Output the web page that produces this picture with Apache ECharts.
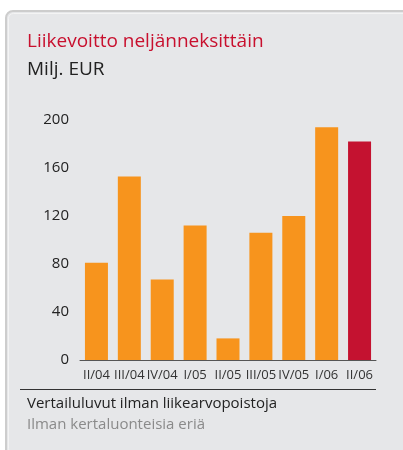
<!DOCTYPE html>
<html>
<head>
<meta charset="utf-8">
<script src="https://cdn.jsdelivr.net/npm/echarts@6/dist/echarts.min.js"></script>
<style>
    html, body { margin: 0; padding: 0; background: #fff; }
    #chart { width: 403px; height: 450px; }
</style>
</head>
<body>
<div id="chart"></div>
<script>
    // quarters and operating profit, MEUR
    var quarters = ['II/04', 'III/04', 'IV/04', 'I/05', 'II/05', 'III/05', 'IV/05', 'I/06', 'II/06'];
    var profit = [81, 153, 67, 112, 18, 106, 120, 194, 182];
    var yTicks = [0, 40, 80, 120, 160, 200];

    var font = '"Open Sans", "Noto Sans", sans-serif';
    var chart = echarts.init(document.getElementById('chart'));

    var option = {
        animation: false,
        grid: { left: 80, right: 27, top: 120, bottom: 90 },
        xAxis: {
            type: 'category',
            data: quarters,
            axisLine: { lineStyle: { color: '#555', width: 1 } },
            axisTick: { show: false },
            axisLabel: { color: '#333', fontSize: 13, fontFamily: font, margin: 9, interval: 0 }
        },
        yAxis: {
            type: 'value',
            min: yTicks[0],
            max: yTicks[yTicks.length - 1],
            interval: 40,
            splitLine: { show: false },
            axisLine: { show: false },
            axisTick: { show: false },
            axisLabel: { color: '#222', fontSize: 15, fontFamily: font, margin: 11 }
        },
        series: [{
            type: 'bar',
            data: profit,
            barWidth: 23,
            itemStyle: {
                color: function (p) {
                    return p.dataIndex === profit.length - 1 ? '#c41230' : '#f7941d';
                }
            }
        }],
        graphic: [
            {
                type: 'rect', z: -10,
                shape: { x: 6, y: 11, width: 420, height: 445, r: 7 },
                style: { fill: '#e6e7e9', stroke: '#cdcdcd', lineWidth: 2 }
            },
            {
                type: 'rect', z: -9,
                shape: { x: 8.5, y: 13.5, width: 420, height: 440, r: 5 },
                style: { fill: '#e6e7e9', stroke: '#f4f4f4', lineWidth: 1 }
            },
            {
                type: 'text', left: 27, top: 32,
                style: { text: 'Liikevoitto neljänneksittäin', fill: '#c8102e', font: '19px ' + font }
            },
            {
                type: 'text', left: 27, top: 60,
                style: { text: 'Milj. EUR', fill: '#222', font: '19px ' + font }
            },
            {
                type: 'line',
                shape: { x1: 20, y1: 389.5, x2: 376, y2: 389.5 },
                style: { stroke: '#333', lineWidth: 1 }
            },
            {
                type: 'text', left: 27, top: 396,
                style: { text: 'Vertailuluvut ilman liikearvopoistoja', fill: '#222', font: '15px ' + font }
            },
            {
                type: 'text', left: 27, top: 417,
                style: { text: 'Ilman kertaluonteisia eriä', fill: '#8a8a8a', font: '15px ' + font }
            }
        ]
    };
    chart.setOption(option);
</script>
</body>
</html>
